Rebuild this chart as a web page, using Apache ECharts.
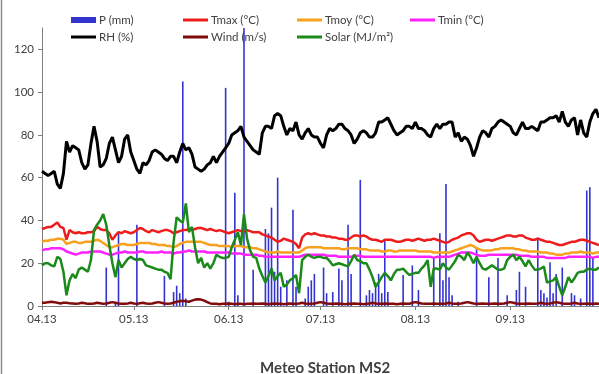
<!DOCTYPE html>
<html lang="en">

<head>
    <meta charset="UTF-8">
    <title>Meteo Station MS2</title>
    <script src="https://cdn.jsdelivr.net/npm/echarts/dist/echarts.min.js"></script>
    <style>
        html, body { margin: 0; padding: 0; background: #fff; }
        #chart { width: 599px; height: 374px; }
    </style>
</head>

<body>
    <div id="chart"></div>
    <script>
        // daily values, 01.04.2013 - 30.09.2013
        var startDate = '2013-04-01';
        var yTicks = [0, 20, 40, 60, 80, 100, 120];

        var P = [
            0,0,0,0,0,0,0,0,0,0,
            0,0,0,0,0,0,0,0,0,0,
            0,18,0,0,1.5,34,0,0,0,0,
            0,38,0,0,0,0,0,0,0,0,
            14,0,0,6.5,9.5,6,105,3.5,0,0,
            0,0,0,0,0,0,0,0,0,0,
            102,2,0,53,5,0,130,0,0,17,
            0,0,0,36,34,46,16,60,9,0,
            12,0,45,9,0,0,3.5,9,12,15,
            0,0,18,6,0,6.5,0,17.5,12,0,
            38,15,0,0,59,0,5,7.5,6,11,
            15,6,31,6.5,0,0,0,0,14.5,0,
            0,19,0,7.5,0,0,0,0,22.5,0,
            34,12,57,13.5,5,0,2,0,0,0,
            0,0,27.5,0,0,0,13.5,0,0,22.5,
            0,0,5,0,0,7.5,16,0,9,0,
            0,0,32,7.5,6,4,20.5,6,15,0,
            18,0,0,6,5,0,3.5,0,54,55.5,
            22.5,0,0
        ];
        var Tmax = [
            36,36.5,37,37,38,39,37,36.5,31,35.5,
            34.5,34,34.5,34,34,34.5,34.5,35,37,36,
            35.5,35.5,34,31,33,34.5,34,35,34.5,34,
            34.5,35.5,36.5,36,35,34.5,35.5,35,34.5,35,
            35.5,35.5,35,34,34.5,35,35.5,35.5,36,35.5,
            36,36.5,36.5,36,35.5,36,35.5,35,35.5,35,
            34.5,34,34.5,35,35.5,35,35,35.5,35,34.5,
            34.5,34.5,33.5,33,32.5,32,31,30,30.5,31.5,
            31,30.5,30,29,27,32,33.5,34,33.5,34,
            33.5,33,33,32.5,32.5,32,32,31.5,31.5,31,
            31,32,33,33,32.5,33,32.5,31.5,31,31,
            30.5,30,31,31,31,30.5,30,30,30.5,31,
            31,30.5,31,31.5,31,30.5,31,31,31.5,31,
            30.5,30,29.5,30,31,31.5,32,33,33.5,34,
            34,33,31,30,30.5,31,31,30.5,31,31.5,
            32,32.5,33,33,32.5,32.5,33,33,32,31.5,
            31,31,31.5,31,30.5,30,30,29.5,29,28.5,
            28.5,29,29.5,30,30,30.5,31,31,30.5,30,
            29.5,29,28.5
        ];
        var Tmoy = [
            30,30.5,30.5,31,31,31.5,31.5,31,29,29.5,
            30,30,29.5,29.5,30,30,30,30.5,31,30.5,
            29.5,28.5,27.5,27.5,28,28.5,29,29,28.5,28.5,
            28.5,29,29.5,29.5,29.5,29.5,29,29,28.5,28.5,
            28.5,28,28,27.5,28,29,29.5,30,30,30,
            30,30,30,29.5,29,28.5,28.5,28.5,28,28,
            28,28,27.5,28,28,28,27.5,27.5,27.5,27,
            27,26.5,26,25.5,25,25,25,25.5,25,25,
            25,25,25,25,25,26,27,27.5,27.5,27.5,
            27.5,27.5,27,27,27,27,27,27,26.5,26.5,
            27,27,27,27,26.5,26.5,26.5,26,26,26,
            26,25.5,25.5,26,26,25.5,25.5,26,26,26,
            26,26,26,25.5,25.5,25.5,25.5,25.5,25,25,
            25,25,25,25,25.5,26,26.5,27,27.5,28,
            28.5,28,27,26.5,26,26,26,26,26.5,26.5,
            27,27,27,27,27,26.5,26.5,26,26,25.5,
            25.5,25.5,25.5,25,25,25,24.5,24.5,24,24,
            24,24.5,24.5,25,25,25,25.5,25,25,25,
            24.5,25,25
        ];
        var Tmin = [
            26,26.5,26.5,27,27,27,27,26.5,25.5,25,
            24.5,24,24.5,25,25,25,25.5,25.5,25.5,25.5,
            25,24.5,24,24,24.5,25,25,25.5,25,25,
            25,25,25.5,25.5,25,25,25,25,25,25.5,
            25,25,25,24.5,25,25,25.5,25.5,26,25.5,
            25.5,25.5,25.5,25.5,25,25,25,25,25,25,
            25,25,24.5,24.5,24.5,24.5,24,24,24,24,
            24,23.5,23.5,23,23,23,23,23,23,23,
            23,23,23,23,23,23.5,24,24,24,24,
            24,24,24,23.5,23.5,23.5,23.5,23,23,23,
            23,23,23.5,23.5,23.5,23,23,23,23,23,
            23,23,23,23,23,23,23,23,23,23,
            23,23,23,23,23,23,23,23,22.5,23,
            23,23,23,23,23.5,24,24.5,25,25,25,
            25,24.5,24,23.5,23.5,23.5,24,24,24,24,
            24,24,24,24,24,24,23.5,23.5,23.5,23.5,
            23,23,23,23,23,22.5,22.5,22.5,22.5,22.5,
            22.5,22.5,23,23,23,23,23,23,23,23,
            22.5,23,23
        ];
        var RH = [
            63,62,61,62,63,57,55,62,77,72,
            75,74,73,67,64,66,76,84,77,65,
            66,69,76,79,73,67,70,78,80,72,
            68,64,62,67,66,68,72,73,72,71,
            69,68,70,70,67,72,76,73,74,71,
            65,64,63,64,66,67,70,67,70,72,
            74,76,80,81,82,84,79,77,75,73,
            72,71,81,84,84,83,89,90,89,84,
            80,83,82,86,80,78,81,83,80,79,
            79,76,74,80,83,82,83,85,85,83,
            82,80,76,78,81,82,81,79,79,81,
            86,86,87,88,85,82,80,81,82,84,
            84,83,86,83,83,82,80,79,83,85,
            83,85,85,86,86,79,81,77,79,78,
            75,70,74,79,82,81,79,83,84,86,
            87,86,85,84,81,80,83,86,83,83,
            84,83,82,86,86,87,88,88,89,86,
            91,86,84,87,88,80,87,81,79,86,
            90,92,88
        ];
        var Wind = [
            1.5,1.5,1.8,2,1.8,1.5,1.2,1.5,1.5,1.3,
            1.2,1,1.2,1.5,1.3,1,1,1.2,1.5,1.3,
            1,1.2,1.5,1.8,1.5,1.2,1,1,1.2,1.5,
            1.2,1,1.3,1.5,1.2,1,1.2,1.5,1.8,1.5,
            1.2,1,1.2,1.5,2,2.2,2.5,2.2,2,2.5,
            3,3.2,3,2.5,1.8,1.2,1,1,0.8,1,
            1,1.2,1,0.8,1,1,0.8,1,1,1.2,
            1,1,1.2,1,0.8,1,1.2,1,1,0.8,
            1,1.2,1,1,1.2,1.5,1.2,1,1,1.2,
            1.5,1.8,1.5,1.2,1,1,1.2,1,1,0.8,
            1,1,1.2,1,1,0.8,1,1.2,1.5,1.2,
            1,1,1.2,1,1,1,0.8,1,1.2,1,
            1,1.5,1.8,1.5,1.2,1,1,1,1.2,1,
            1,1,1.2,1.5,1.2,1,1,1.2,1.5,1.8,
            1.5,1.2,1,1,1.2,1,1,1,1.2,1,
            1,1.2,1.5,1.8,1.5,1.2,1,1,1,1.2,
            1,1,1.2,1.5,1.2,1,1.2,1.5,1.8,1.5,
            1.2,1,1,1.2,1.5,1.2,1,1,1.2,1,
            1,1.2,1
        ];
        var Solar = [
            19,20,20,19,18.5,23,22,16,5,12,
            15,13,17,18,17,16,21.5,35.5,38,40,
            43,38,28.5,20,13.5,21.5,18,20,22,23,
            22,21.5,22,21.5,19,18.5,18,17.5,17,17,
            16,15.5,12.5,30,41.5,40,39,48,34.5,37,
            27.5,20,22.5,18,20,17.5,20,24,23,22.5,
            22.5,23,27.5,31,34.5,28.5,43,31.5,26,23,
            22.5,17.5,14,11,14,17.5,12,14,15.5,9,
            10,12,13,14.5,6,21.5,23,24,23,22.5,
            23,23,22.5,22.5,21,19,19.5,20,19.5,19,
            18.5,21,24,21.5,21,20,20,17,13.5,9,
            11,13.5,15.5,14,12,15,17,17,17.5,16,
            14.5,15,15.5,15.5,17.5,19,21.5,9,17.5,17.5,
            17,20,18,17,19,21,24,23,21.5,25,
            23,20,23,20,17.5,17,18,19,18,17,
            17,17.5,21.5,23,24,21.5,23,21,18.5,21.5,
            19,17,17,17.5,18.5,11,11.5,12,13.5,9,
            5,9,13.5,11,13,15.5,16,16,17,17.5,
            17,17,18
        ];

        // category labels: one per day
        var days = [];
        var d0 = new Date(startDate + 'T00:00:00Z');
        for (var i = 0; i < P.length; i++) {
            var d = new Date(d0.getTime() + i * 86400000);
            days.push(d.toISOString().slice(0, 10));
        }
        function isMonthStart(idx, v) { return v.slice(8, 10) === '01'; }

        var font = 'Lato';
        var txt = '#404040';

        function lineSeries(name, data, color, w) {
            return {
                name: name,
                type: 'line',
                data: data,
                symbol: 'none',
                lineStyle: { color: color, width: w || 2.5 },
                itemStyle: { color: color },
                z: 3
            };
        }
        // one legend per entry, placed on the 4-column grid of the original
        function leg(name, x, y, bar) {
            return {
                data: [name],
                left: x,
                top: y,
                itemWidth: 25,
                itemHeight: bar ? 6 : 3,
                icon: 'rect',
                itemGap: 0,
                textStyle: { color: txt, fontFamily: font, fontSize: 11.5, padding: [0, 0, 0, -2] }
            };
        }

        var myChart = echarts.init(document.getElementById('chart'));
        myChart.setOption({
            animation: false,
            backgroundColor: '#fff',
            title: {
                text: 'Meteo Station MS2',
                left: 255,
                top: 356,
                textStyle: { fontFamily: font, fontSize: 15, fontWeight: 'bold', color: txt }
            },
            legend: [
                leg('P (mm)', 66, 9, true),
                leg('Tmax (°C)', 178, 9),
                leg('Tmoy (°C)', 292, 9),
                leg('Tmin (°C)', 405, 9),
                leg('RH (%)', 66, 26),
                leg('Wind (m/s)', 178, 26),
                leg('Solar (MJ/m²)', 292, 26)
            ],
            grid: { left: 42, right: 0, top: 28, bottom: 68 },
            xAxis: {
                type: 'category',
                data: days,
                boundaryGap: false,
                axisLine: { lineStyle: { color: '#7f7f7f', width: 1 } },
                axisTick: { interval: isMonthStart, length: 4, lineStyle: { color: '#7f7f7f' } },
                axisLabel: {
                    interval: isMonthStart,
                    color: txt, fontFamily: font, fontSize: 11.5, margin: 7,
                    formatter: function (v) { return v.slice(5, 7) + '.' + v.slice(2, 4); }
                }
            },
            yAxis: {
                type: 'value',
                min: 0,
                max: 130,
                interval: 20,
                splitLine: { show: false },
                axisLine: { show: true, lineStyle: { color: '#7f7f7f', width: 1 } },
                axisTick: { show: true, length: 4, customValues: yTicks, lineStyle: { color: '#7f7f7f' } },
                axisLabel: { customValues: yTicks, color: txt, fontFamily: font, fontSize: 11.5, margin: 8 }
            },
            graphic: [{
                type: 'line',
                shape: { x1: 1.5, y1: 0, x2: 1.5, y2: 374 },
                style: { stroke: '#8c8c8c', lineWidth: 1.5 }
            }],
            series: [
                {
                    name: 'P (mm)',
                    type: 'bar',
                    data: P,
                    barWidth: 1.6,
                    itemStyle: { color: '#3333d0' },
                    z: 2
                },
                lineSeries('Tmax (°C)', Tmax, '#ee1c1c'),
                lineSeries('Tmoy (°C)', Tmoy, '#f7a11f'),
                lineSeries('Tmin (°C)', Tmin, '#ff22ff'),
                lineSeries('RH (%)', RH, '#000000', 3),
                lineSeries('Wind (m/s)', Wind, '#7f0b0b'),
                lineSeries('Solar (MJ/m²)', Solar, '#1a8a1a')
            ]
        });
    </script>
</body>

</html>
